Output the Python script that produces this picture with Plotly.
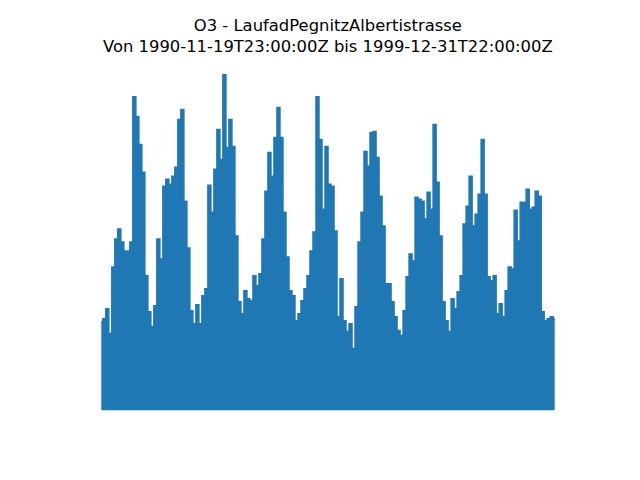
import pandas as pd
import plotly.graph_objects as go

# Series metadata
station = "O3 - LaufadPegnitzAlbertistrasse"
start = "1990-11-19T23:00:00Z"
end = "1999-12-31T22:00:00Z"

o3_peak = [
    89, 92, 102, 77, 144, 172, 182, 169, 160, 160, 169, 315, 295, 267, 239, 135,
    99, 84, 105, 172, 152, 225, 232, 227, 235, 244, 292, 302, 210, 163, 100, 87,
    106, 87, 115, 122, 226, 199, 242, 282, 252, 337, 264, 292, 265, 175, 109, 97,
    120, 112, 110, 135, 125, 137, 172, 220, 259, 235, 274, 304, 274, 199, 154, 120,
    115, 90, 97, 110, 122, 135, 160, 179, 315, 272, 202, 265, 227, 225, 180, 94,
    132, 90, 79, 87, 62, 104, 169, 199, 260, 245, 279, 280, 254, 215, 185, 127,
    127, 109, 94, 80, 75, 100, 134, 157, 150, 214, 212, 210, 192, 219, 202, 287,
    229, 175, 109, 90, 79, 112, 102, 119, 135, 187, 205, 235, 185, 197, 217, 272,
    217, 134, 130, 135, 97, 107, 94, 120, 144, 142, 201, 170, 209, 209, 222, 202,
    204, 220, 215, 99, 90, 92, 94, 92,
]
# Lower envelope (minimum of readings) is zero throughout
o3_low = 0

dates = pd.date_range(start.replace("Z", ""), end.replace("Z", ""), periods=len(o3_peak))

fig = go.Figure()
fig.add_trace(go.Scatter(
    x=dates, y=o3_peak, mode="lines", line=dict(color="#1f77b4", width=1.5, shape="hvh"),
    fill="tozeroy", fillcolor="#1f77b4", showlegend=False,
))

t0, t1 = dates[0], dates[-1]
span = t1 - t0
pad = 0.047
ymin, ymax = min(o3_low, min(o3_peak)), max(o3_peak)
ys = ymax - ymin

# page body has an 8px default margin; compensate so the axes box sits at (80..576, 57.6..427.2)
off = 8
top, bottom = 57.6, 427.2
ph = bottom - top


def py(Y):
    return (bottom - Y) / ph


title_font = dict(family="DejaVu Sans", size=16.4, color="black")
fig.update_layout(
    width=640, height=480,
    margin=dict(l=80 - off, r=64 + off, t=top - off, b=480 - bottom + off),
    paper_bgcolor="white", plot_bgcolor="white",
    xaxis=dict(visible=False, range=[t0 - pad * span, t1 + pad * span]),
    yaxis=dict(visible=False, range=[ymin - 0.05 * ys, ymax + 0.05 * ys]),
    annotations=[
        dict(text=f"{station}<br>Von {start} bis {end}", x=0.5, y=py(35.5),
             xref="paper", yref="paper", xanchor="center", yanchor="middle",
             showarrow=False, font=title_font),
    ],
)

fig.write_html("out.html")
